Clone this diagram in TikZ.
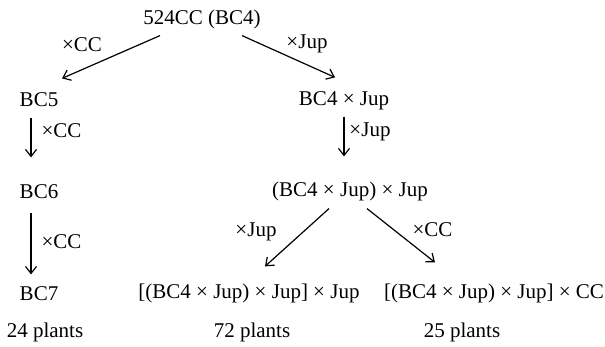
\documentclass[tikz,border=0pt]{standalone}
\usepackage{fontspec}
\setmainfont{Liberation Serif}
\usetikzlibrary{arrows.meta}

\begin{document}
\begin{tikzpicture}[x=0.5pt, y=-0.5pt, line width=0.6pt,
        >={Straight Barb[length=3.5pt,width=5.5pt]},
        every node/.style={font=\fontsize{10.5}{12}\selectfont, inner sep=0pt,
          anchor=base, text height=7.5pt, text depth=2.5pt}]
        % ----------- frame -----------
        \useasboundingbox (0,0) rectangle (605,347);

        % =====================================
        %            lines
        % =====================================
        \node (top) at (202,25) {524CC (BC4)};
        \node (bcfive) at (39,107) {BC5};
        \node (bcsix) at (39,199) {BC6};
        \node (bcseven) at (39,300) {BC7};
        \node (bcjup) at (344,106) {BC4 × Jup};
        \node (bcjupjup) at (350,197) {(BC4 × Jup) × Jup};
        \node (endjup) at (249,299) {[(BC4 × Jup) × Jup] × Jup};
        \node (endcc) at (494,299) {[(BC4 × Jup) × Jup] × CC};

        % plant counts
        \node (nseven) at (45,337) {24 plants};
        \node (njup) at (252,337) {72 plants};
        \node (ncc) at (462,337) {25 plants};

        % =====================================
        %            crosses
        % =====================================
        \draw[->] ([shift={(-42,5)}]top.south) -- ([shift={(23,-13)}]bcfive.north);
        \draw[->] ([shift={(40,5)}]top.south) -- ([shift={(-9,-13)}]bcjup.north);
        \node (xone) at (82,52) {×CC};
        \node (xtwo) at (307,49) {×Jup};

        % backcross to CC
        \draw[->] ([shift={(-8,5)}]bcfive.south) -- ([shift={(-8,-26)}]bcsix.north);
        \draw[->] ([shift={(-8,8)}]bcsix.south) -- ([shift={(-8,-10)}]bcseven.north);
        \node (xthree) at (61.5,138) {×CC};
        \node (xfour) at (61.5,249) {×CC};

        % crosses to Jup
        \draw[->] ([shift={(0,5)}]bcjup.south) -- ([shift={(-6,-25)}]bcjupjup.north);
        \node (xfive) at (370,137) {×Jup};

        % last split
        \draw[->] ([shift={(-21,6)}]bcjupjup.south) -- ([shift={(16,-17)}]endjup.north);
        \draw[->] ([shift={(17,6)}]bcjupjup.south) -- ([shift={(-59,-21)}]endcc.north);
        \node (xsix) at (256,237) {×Jup};
        \node (xseven) at (432.5,237) {×CC};

\end{tikzpicture}
\end{document}
